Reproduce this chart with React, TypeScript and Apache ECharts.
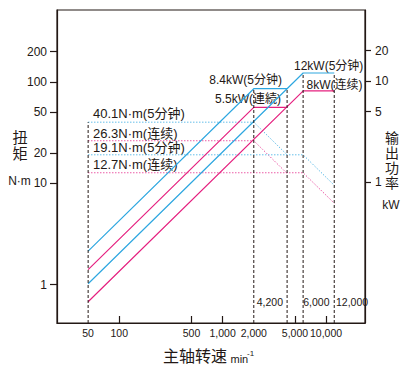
import React, { useEffect, useRef } from 'react';
import * as echarts from 'echarts';

// ---- data ----
const speedTickValues = [100, 500, 1000, 5000, 10000];
const speedLabelValues = [50, 100, 500, 1000, 2000, 5000, 10000];
const torqueTickValues = [1, 10, 20, 50, 100, 200];
const powerTickValues = [1, 5, 10, 20];

// torque curves (left axis, N·m)
const torque40Speeds = [50, 2000, 4200];
const torque40Values = [40.1, 40.1, 19.1];
const torque26Speeds = [50, 2000, 4200];
const torque26Values = [26.3, 26.3, 12.5];
const torque19Speeds = [50, 6000, 12000];
const torque19Values = [19.1, 19.1, 9.55];
const torque12Speeds = [50, 6000, 12000];
const torque12Values = [12.7, 12.7, 6.35];

// power curves (right axis, kW)
const power84Speeds = [50, 2000, 4200];
const power84Values = [0.21, 8.4, 8.4];
const power55Speeds = [50, 2000, 4200];
const power55Values = [0.1377, 5.5, 5.5];
const power12Speeds = [50, 6000, 12000];
const power12Values = [0.1, 12, 12];
const power8Speeds = [50, 6015, 12000];
const power8Values = [0.0665, 8, 8];

// reference vertical lines
const refTorqueSpeed = 50;
const refTorqueTop = 40.1;
const refPowerSpeeds = [2000, 4200, 6000, 12000];
const refPowerTops = [8.4, 8.4, 12, 12];

const X_MIN = 25;
const X_MAX = 23800;
const YL_MIN = 0.417;
const YL_MAX = 514;
const YR_MIN = 0.041;
const YR_MAX = 50.2;

const BLUE = '#2ea7e0';
const PINK = '#e5207f';
const BLUE_DOT = '#4fb5e6';
const PINK_DOT = '#e8449a';
const INK = '#231815';
const FONT = '"Liberation Sans", Arial, "Noto Sans CJK SC", sans-serif';
const CJK = '"Liberation Sans", Arial, "Noto Sans CJK JP", sans-serif';

const zip = (xs: number[], ys: number[]) => xs.map((x, i) => [x, ys[i]]);

function lineSeries(data: number[][], color: string, yAxisIndex: number, type: any, width: number) {
  return {
    type: 'line',
    data,
    yAxisIndex,
    symbol: 'none',
    silent: true,
    lineStyle: { color, width, type },
  };
}

export default function App() {
  const ref = useRef<HTMLDivElement>(null);
  useEffect(() => {
    document.body.style.margin = '0';
    const chart = echarts.init(ref.current!, null, { renderer: 'svg' });
    const dots = [1.3, 1.7];
    const dash = [3, 2];
    const series: any[] = [
      lineSeries(zip(torque40Speeds, torque40Values), BLUE_DOT, 0, dots, 1),
      lineSeries(zip(torque26Speeds, torque26Values), PINK_DOT, 0, dots, 1),
      lineSeries(zip(torque19Speeds, torque19Values), BLUE_DOT, 0, dots, 1),
      lineSeries(zip(torque12Speeds, torque12Values), PINK_DOT, 0, dots, 1),
      lineSeries(zip(power84Speeds, power84Values), BLUE, 1, 'solid', 1.2),
      lineSeries(zip(power55Speeds, power55Values), PINK, 1, 'solid', 1.2),
      lineSeries(zip(power12Speeds, power12Values), BLUE, 1, 'solid', 1.2),
      lineSeries(zip(power8Speeds, power8Values), PINK, 1, 'solid', 1.2),
      lineSeries([[refTorqueSpeed, YL_MIN], [refTorqueSpeed, refTorqueTop]], INK, 0, dash, 1),
      ...refPowerSpeeds.map((s, i) =>
        lineSeries([[s, YR_MIN], [s, refPowerTops[i]]], INK, 1, dash, 1)
      ),
    ];
    const txt = (text: string, x: number, y: number, size: number, align = 'left', font = CJK) => ({
      type: 'text',
      x,
      y,
      silent: true,
      style: { text, fill: INK, font: `${size}px ${font}`, align, verticalAlign: 'middle' },
    });
    chart.setOption({
      animation: false,
      grid: {
        left: 57,
        right: 45,
        top: 10,
        bottom: 51,
        show: true,
        borderColor: INK,
        borderWidth: 1.2,
        containLabel: false,
      },
      xAxis: {
        type: 'log',
        min: X_MIN,
        max: X_MAX,
        axisLine: { show: true, lineStyle: { color: INK, width: 1.2 } },
        axisTick: { show: true, inside: true, length: 7, customValues: speedTickValues, lineStyle: { color: INK, width: 1.2 } },
        axisLabel: {
          customValues: speedLabelValues,
          margin: 5,
          color: INK,
          fontSize: 10.5,
          fontFamily: FONT,
          formatter: (v: number) => Math.round(v).toLocaleString('en-US'),
        },
        splitLine: { show: false },
        minorTick: { show: false },
      },
      yAxis: [
        {
          type: 'log',
          min: YL_MIN,
          max: YL_MAX,
          axisLine: { show: true, lineStyle: { color: INK, width: 1.2 } },
          axisTick: { show: true, length: 7, customValues: torqueTickValues, lineStyle: { color: INK, width: 1.2 } },
          axisLabel: {
            customValues: torqueTickValues,
            margin: 10,
            color: INK,
            fontSize: 12,
            fontFamily: FONT,
            formatter: (v: number) => String(Math.round(v)),
          },
          splitLine: { show: false },
        },
        {
          type: 'log',
          min: YR_MIN,
          max: YR_MAX,
          position: 'right',
          axisLine: { show: true, lineStyle: { color: INK, width: 1.2 } },
          axisTick: { show: true, length: 6, customValues: powerTickValues, lineStyle: { color: INK, width: 1.2 } },
          axisLabel: {
            customValues: powerTickValues,
            margin: 10,
            color: INK,
            fontSize: 12,
            fontFamily: FONT,
            formatter: (v: number) => String(Math.round(v)),
          },
          splitLine: { show: false },
        },
      ],
      series,
      graphic: [
        txt('40.1N·m(5分钟)', 93, 113, 13),
        txt('26.3N·m(连续)', 93, 133.7, 13),
        txt('19.1N·m(5分钟)', 93, 147.3, 13),
        txt('12.7N·m(连续)', 93, 164.3, 13),
        txt('8.4kW(5分钟)', 282, 80, 12, 'right'),
        txt('5.5kW(連続)', 281, 98.5, 12, 'right'),
        txt('12kW(5分钟)', 294, 65.7, 12),
        txt('8kW(连续)', 306.5, 84.5, 12),
        txt('4,200', 283, 302, 10.5, 'right', FONT),
        txt('6,000', 329.5, 302, 10.5, 'right', FONT),
        txt('12,000', 336, 302, 10.5, 'left', FONT),
        txt('扭', 20, 137, 15, 'center'),
        txt('矩', 20, 153.3, 15, 'center'),
        txt('N·m', 19.5, 181, 12, 'center'),
        txt('输', 392, 138.3, 14, 'center'),
        txt('出', 392, 153, 14, 'center'),
        txt('功', 392, 168, 14, 'center'),
        txt('率', 392, 183, 14, 'center'),
        txt('kW', 391, 205, 12, 'center', FONT),
        txt('主轴转速', 163, 356, 16),
        txt('min', 230.5, 358.5, 11, 'left', FONT),
        txt('-1', 247, 353, 8, 'left', FONT),
      ],
    });
    return () => chart.dispose();
  }, []);
  return <div ref={ref} style={{ width: 410, height: 374 }} />;
}
